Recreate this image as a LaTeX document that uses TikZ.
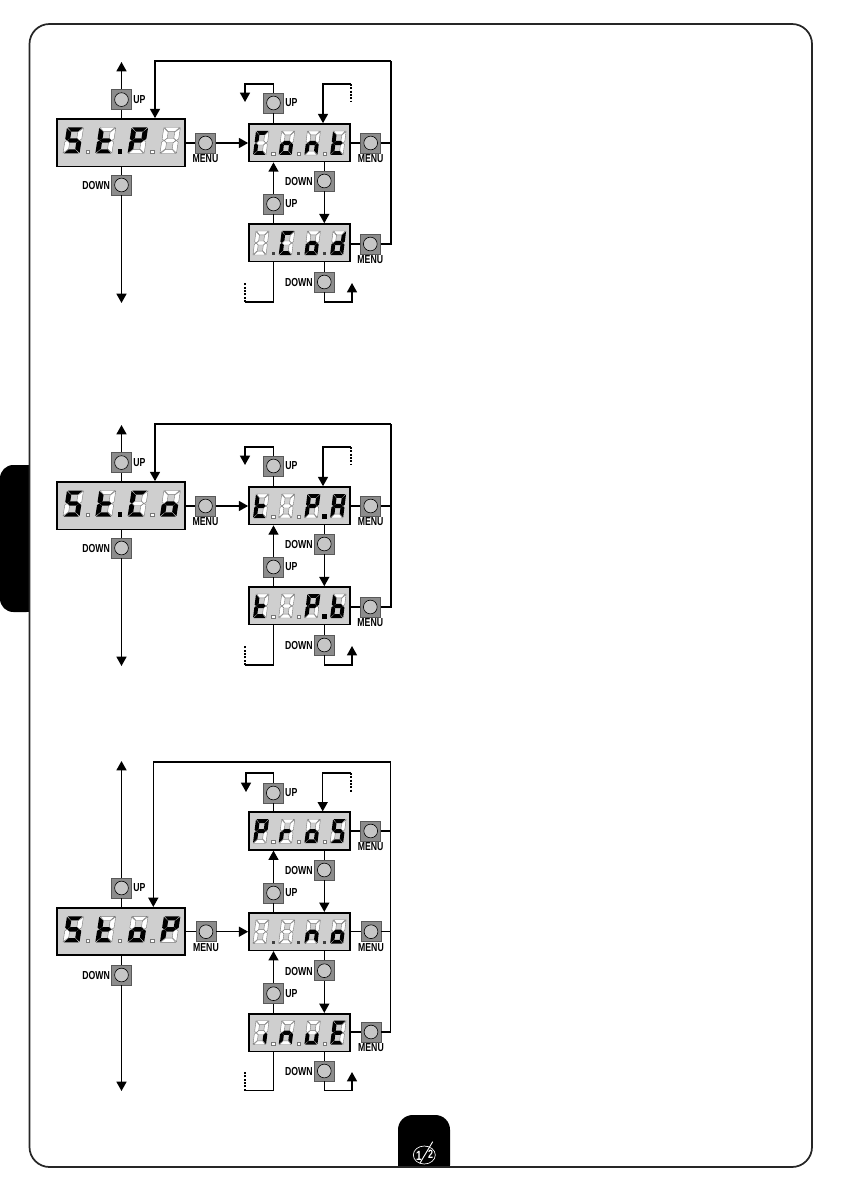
\documentclass[tikz,border=0pt]{standalone}
\usepackage{fontspec}
\usetikzlibrary{arrows.meta}
\newfontfamily\lab[FakeStretch=0.75]{Liberation Sans Bold}
\definecolor{dispg}{HTML}{CFCFCF}
\definecolor{btng}{HTML}{8C8C8C}
\definecolor{circg}{HTML}{C6C6C6}
\definecolor{segl}{HTML}{777777}
\tikzset{
  ln/.style={line width=1.1pt,draw=black},
  arr/.style={line width=1.1pt,draw=black,-{Triangle[length=7pt,width=7.5pt]}},
  dsh/.style={line width=1.1pt,draw=black,dash pattern=on 1.5pt off 1pt},
  dispbox/.style={draw=black,line width=1.2pt,fill=dispg,inner sep=0pt,rectangle},
  btnbox/.style={draw=black!65,line width=.5pt,fill=btng,inner sep=0pt,rectangle,minimum width=15pt,minimum height=15pt},
  btnc/.style={draw=black,line width=.45pt,fill=circg,inner sep=0pt,circle,minimum size=10.3pt},
  lbl/.style={inner sep=0pt,font=\lab\fontsize{8.7}{9}\selectfont,text=black},
  frame/.style={draw=black!85,line width=1.3pt,rounded corners=15pt}
}
% flags: a b c d e f g
\def\dS{1011011}\def\dT{0001111}\def\dP{1100111}\def\dB{0000000}
\def\dC{1001110}\def\dO{0011101}\def\dN{0010101}\def\dD{0111101}
\def\dI{0010000}\def\dA{1110111}\def\dL{0011111}\def\dR{0000101}
\def\dU{0011100}\def\dE{1001111}
\newcommand\segm[2]{\ifnum#1=1 \fill[black] #2 -- cycle;\else\filldraw[fill=white,draw=segl,line width=.3pt] #2 -- cycle;\fi}
\newcommand\digitshape[7]{%
  \segm{#1}{(.05,1)--(.95,1)--(.70,.84)--(.30,.84)}%
  \segm{#2}{(1,.98)--(1,.56)--(.87,.5)--(.70,.59)--(.70,.82)}%
  \segm{#3}{(1,.44)--(.87,.5)--(.70,.41)--(.70,.18)--(1,.02)}%
  \segm{#4}{(.05,0)--(.95,0)--(.70,.16)--(.30,.16)}%
  \segm{#5}{(0,.44)--(.13,.5)--(.30,.41)--(.30,.18)--(0,.02)}%
  \segm{#6}{(0,.98)--(0,.56)--(.13,.5)--(.30,.59)--(.30,.82)}%
  \segm{#7}{(.15,.5)--(.31,.585)--(.69,.585)--(.85,.5)--(.69,.415)--(.31,.415)}%
}
% x(left) y(bottom) W H slant flags
\newcommand\dg[6]{\begin{scope}[shift={(#1,#2)},x={(#3*.75pt,0pt)},y={(#5*.75pt,#4*.75pt)}]\expandafter\digitshape#6\end{scope}}
% x y kind: 0 small white, 1 large black, 2 small black
\newcommand\sdot[3]{%
  \ifnum#3=0 \filldraw[fill=white,draw=segl,line width=.3pt] (#1-1.6,#2-1.6) rectangle (#1+1.6,#2+1.6);\fi
  \ifnum#3=1 \fill[black] (#1-2.3,#2-2.3) rectangle (#1+2.3,#2+2.3);\fi
  \ifnum#3=2 \fill[black!75] (#1-1.5,#2-1.5) rectangle (#1+1.5,#2+1.5);\fi}
% d1..d4 dots(3) name cy
\newcommand\mainD[9]{%
  \node[dispbox,minimum width=96.2pt,minimum height=35.6pt] (#8) at (120.85,#9) {};
  \pgfmathsetmacro\dy{#9+10.8}
  \pgfmathsetmacro\oy{#9+8.8}
  \dg{63}{\dy}{16.5}{26}{4}{#1}\dg{95.3}{\dy}{16.5}{26}{4}{#2}\dg{127.6}{\dy}{16.5}{26}{4}{#3}\dg{159.9}{\dy}{16.5}{26}{4}{#4}
  \sdot{87.5}{\oy}{#5}\sdot{119.8}{\oy}{#6}\sdot{152.1}{\oy}{#7}}
\newcommand\subD[9]{%
  \node[dispbox,minimum width=75.8pt,minimum height=28.2pt] (#8) at (299.5,#9) {};
  \pgfmathsetmacro\dy{#9+12.2}
  \pgfmathsetmacro\oy{#9+10.8}
  \dg{253}{\dy}{13}{24}{3}{#1}\dg{278.7}{\dy}{13}{24}{3}{#2}\dg{304.4}{\dy}{13}{24}{3}{#3}\dg{330.1}{\dy}{13}{24}{3}{#4}
  \sdot{273.2}{\oy}{#5}\sdot{298.9}{\oy}{#6}\sdot{324.6}{\oy}{#7}}
\newcommand\btn[3]{\node[btnbox] (#1) at (#2,#3) {};\node[btnc] (#1c) at (#1) {};}
\newcommand\upb[3]{\btn{#1}{#2}{#3}\node[lbl,anchor=west] (#1t) at ([xshift=1pt]#1.east) {UP};}
\newcommand\dnb[3]{\btn{#1}{#2}{#3}\node[lbl,anchor=east] (#1t) at ([xshift=-.8pt,yshift=-.5pt]#1.west) {DOWN};}
\newcommand\mnb[3]{\btn{#1}{#2}{#3}\node[lbl] (#1t) at ([yshift=-11.7pt]#1.center) {MENU};}
% upper blocks: prefix, y offset; digits and dots in \mainargs, \topargs, \botargs
\newcommand\topblock[2]{%
  \begin{scope}[shift={(0,#2)}]
  \coordinate (#1tu) at (121.5,62);
  \coordinate (#1td) at (121.5,303);
  \coordinate (#1fr) at (391,61);
  \coordinate (#1fl) at (155,61);
  \coordinate (#1la) at (245,84);
  \coordinate (#1lt) at (245,102);
  \coordinate (#1ra) at (351,84);
  \coordinate (#1rd) at (351,102);
  \coordinate (#1rx) at (323,84);
  \coordinate (#1ba) at (245,302);
  \coordinate (#1bd) at (245,283);
  \coordinate (#1bb) at (352,302);
  \coordinate (#1bt) at (352,283);
  \expandafter\mainD\mainargs{#1M}{142.7}
  \expandafter\subD\topargs{#1A}{142.8}
  \expandafter\subD\botargs{#1B}{242.8}
  \upb{#1MU}{121.5}{99.6}
  \dnb{#1MD}{121.5}{185}
  \mnb{#1MM}{205.5}{143}
  \upb{#1AU}{273.5}{103}
  \dnb{#1AD}{324.3}{181}
  \upb{#1BU}{273.5}{204}
  \dnb{#1BD}{324.3}{282}
  \mnb{#1AM}{370.7}{143}
  \mnb{#1BM}{370.3}{244}
  \end{scope}
  \draw[arr] (#1MU.north) -- (#1tu);
  \draw[ln] (#1MU.south) -- (#1MU.south |- #1M.north);
  \draw[ln] (#1MD.north) -- (#1MD.north |- #1M.south);
  \draw[arr] (#1MD.south) -- (#1td);
  \draw[ln] (#1M.east |- #1MM) -- (#1MM.west);
  \draw[arr] (#1MM.east) -- (#1A.west |- #1MM);
  \draw[arr] (#1fr) -- (#1fl) -- (#1fl |- #1M.north);
  \draw[ln] (#1BM.east) -- (#1fr |- #1BM) -- (#1fr);
  \draw[ln] (#1AM.east) -- (#1fr |- #1AM);
  \draw[ln] (#1A.east |- #1AM) -- (#1AM.west);
  \draw[ln] (#1B.east |- #1BM) -- (#1BM.west);
  \draw[arr] (#1AU.north) |- (#1la) -- (#1lt);
  \draw[ln] (#1AU.south) -- (#1AU.south |- #1A.north);
  \draw[dsh] (#1ra) -- (#1rd);
  \draw[arr] (#1ra) -- (#1rx) -- (#1rx |- #1A.north);
  \draw[ln] (#1AD.north) -- (#1AD.north |- #1A.south);
  \draw[arr] (#1AD.south) -- (#1AD.south |- #1B.north);
  \draw[arr] (#1BU.north) -- (#1BU.north |- #1A.south);
  \draw[ln] (#1BU.south) -- (#1BU.south |- #1B.north);
  \draw[ln] (#1BD.north) -- (#1BD.north |- #1B.south);
  \draw[arr] (#1BD.south) |- (#1bb) -- (#1bt);
  \draw[ln] (#1BU.south |- #1B.south) |- (#1ba);
  \draw[dsh] (#1ba) -- (#1bd);
}
\begin{document}
\begin{tikzpicture}[x=.75pt,y=-.75pt]
\useasboundingbox (0,0) rectangle (842,1191);
\fill[white] (0,0) rectangle (842,1191);
% side tab and page tab
\fill[black,rounded corners=10pt] (0,465) rectangle (40,612);
\fill[white] (30,460) rectangle (45,620);
\fill[black,rounded corners=11pt] (398,1115) rectangle (450,1180);
\fill[white] (390,1167) rectangle (460,1185);
\draw[frame] (29.5,24) rectangle (812,1167);
% page number mark
\draw[white,line width=.5pt] (424.3,1155) ellipse (11 and 9);
\node[inner sep=0pt,text=white,font=\lab\fontsize{10}{10}\selectfont] (pgone) at (419,1156) {1};
\node[inner sep=0pt,text=white,font=\lab\fontsize{9}{9}\selectfont] (pgtwo) at (430.5,1154) {2};
\coordinate (sa) at (420,1163);
\coordinate (sb) at (432.7,1141.7);
\draw[white,line width=.7pt] (sa) -- (sb);
% block 1
\def\mainargs{{\dS}{\dT}{\dP}{\dB}{0}{1}{0}}
\def\topargs{{\dC}{\dO}{\dN}{\dT}{0}{0}{0}}
\def\botargs{{\dB}{\dC}{\dO}{\dD}{2}{2}{2}}
\topblock{a}{0}
% block 2
\def\mainargs{{\dS}{\dT}{\dC}{\dO}{0}{1}{0}}
\def\topargs{{\dT}{\dB}{\dP}{\dA}{0}{0}{1}}
\def\botargs{{\dT}{\dB}{\dP}{\dL}{0}{0}{1}}
\topblock{b}{363}
% block 3
\coordinate (ctu) at (121.5,761);
\coordinate (ctd) at (121.5,1091);
\coordinate (cfr) at (390.6,762);
\coordinate (cfl) at (153.3,762);
\coordinate (cla) at (246,773);
\coordinate (clt) at (246,792);
\coordinate (cra) at (351,773);
\coordinate (crd) at (351,792);
\coordinate (crx) at (322.7,773);
\coordinate (cba) at (245,1090.7);
\coordinate (cbd) at (245,1072);
\coordinate (cbb) at (352,1090.7);
\coordinate (cbt) at (352,1072);
\mainD{\dS}{\dT}{\dO}{\dP}{0}{0}{0}{cM}{931.5}
\subD{\dP}{\dR}{\dO}{\dS}{0}{0}{0}{cA}{831}
\subD{\dB}{\dB}{\dN}{\dO}{2}{2}{2}{cB}{931.5}
\subD{\dI}{\dN}{\dU}{\dE}{0}{0}{0}{cC}{1032.5}
\upb{cMU}{121.5}{888}
\dnb{cMD}{121.5}{975}
\mnb{cMM}{206}{931.7}
\upb{cAU}{273.3}{793}
\mnb{cAM}{370.7}{831}
\dnb{cAD}{324.3}{870}
\upb{cBU}{273.5}{893}
\mnb{cBM}{371}{931.7}
\dnb{cBD}{324.3}{970.7}
\upb{cCU}{273.5}{993.7}
\mnb{cCM}{371}{1032}
\dnb{cCD}{324.3}{1071}
\draw[arr] (cMU.north) -- (ctu);
\draw[ln] (cMU.south) -- (cMU.south |- cM.north);
\draw[ln] (cMD.north) -- (cMD.north |- cM.south);
\draw[arr] (cMD.south) -- (ctd);
\draw[ln] (cM.east |- cMM) -- (cMM.west);
\draw[arr] (cMM.east) -- (cB.west |- cMM);
\draw[arr] (cfr) -- (cfl) -- (cfl |- cM.north);
\draw[ln] (cCM.east) -- (cfr |- cCM) -- (cfr);
\draw[ln] (cAM.east) -- (cfr |- cAM);
\draw[ln] (cBM.east) -- (cfr |- cBM);
\draw[ln] (cA.east |- cAM) -- (cAM.west);
\draw[ln] (cB.east |- cBM) -- (cBM.west);
\draw[ln] (cC.east |- cCM) -- (cCM.west);
\draw[arr] (cAU.north) |- (cla) -- (clt);
\draw[ln] (cAU.south) -- (cAU.south |- cA.north);
\draw[dsh] (cra) -- (crd);
\draw[arr] (cra) -- (crx) -- (crx |- cA.north);
\draw[ln] (cAD.north) -- (cAD.north |- cA.south);
\draw[arr] (cAD.south) -- (cAD.south |- cB.north);
\draw[arr] (cBU.north) -- (cBU.north |- cA.south);
\draw[ln] (cBU.south) -- (cBU.south |- cB.north);
\draw[ln] (cBD.north) -- (cBD.north |- cB.south);
\draw[arr] (cBD.south) -- (cBD.south |- cC.north);
\draw[arr] (cCU.north) -- (cCU.north |- cB.south);
\draw[ln] (cCU.south) -- (cCU.south |- cC.north);
\draw[ln] (cCD.north) -- (cCD.north |- cC.south);
\draw[arr] (cCD.south) |- (cbb) -- (cbt);
\draw[ln] (cCU.south |- cC.south) |- (cba);
\draw[dsh] (cba) -- (cbd);
\end{tikzpicture}
\end{document}
